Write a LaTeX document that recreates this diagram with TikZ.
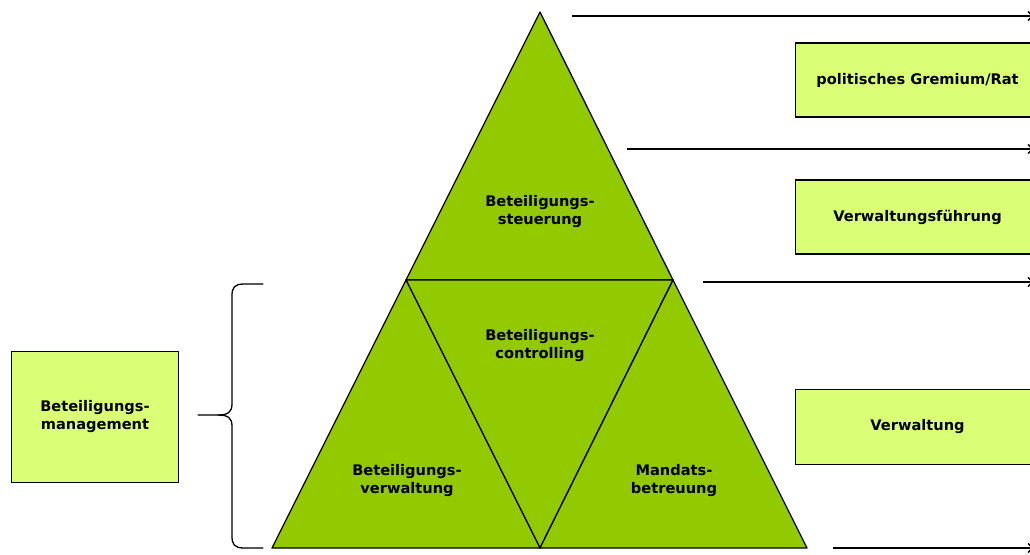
\documentclass[tikz,border=0pt]{standalone}
\usepackage{fontspec}
\setmainfont{DejaVu Sans}
\usepackage{xcolor}
\usetikzlibrary{arrows.meta,positioning,calc}

\definecolor{pyrgreen}{RGB}{146,201,0}
\definecolor{boxgreen}{RGB}{218,255,118}

\begin{document}
\begin{tikzpicture}[x=1pt,y=-1pt,>={Straight Barb[length=5pt,width=9pt]},
  piece/.style={fill=pyrgreen,draw=black,line width=1.3pt,line join=round},
  lbl/.style={font=\fontsize{14.6}{18}\selectfont\bfseries,align=center},
  level/.style={draw=black,fill=boxgreen,line width=1.1pt,minimum height=74pt,font=\fontsize{14.6}{18}\selectfont\bfseries,inner sep=0pt},
  tier/.style={->,line width=1.4pt}]
  \useasboundingbox (0,0) rectangle (1030,554);
  % pyramid corners
  \coordinate (top) at (540,12);
  \coordinate (bl) at (272,548);
  \coordinate (br) at (807,548);
  \coordinate (ml) at (406,280);
  \coordinate (mr) at (673,280);
  \coordinate (bm) at (540,548);
  \draw[piece] (top)--(mr)--(ml)--cycle;
  \draw[piece] (ml)--(mr)--(bm)--cycle;
  \draw[piece] (ml)--(bm)--(bl)--cycle;
  \draw[piece] (mr)--(br)--(bm)--cycle;
  \node[lbl] (steuer) at (540,212) {Beteiligungs-\\steuerung};
  \node[lbl] (contr) at (540,346) {Beteiligungs-\\controlling};
  \node[lbl] (verw) at (407,481) {Beteiligungs-\\verwaltung};
  \node[lbl] (mand) at (674,481) {Mandats-\\betreuung};
  % levels on the right
  \coordinate (a1) at (572,16);  \coordinate (e1) at (1034,16);
  \coordinate (a2) at (627,149); \coordinate (e2) at (1034,149);
  \coordinate (a3) at (703,282); \coordinate (e3) at (1034,282);
  \coordinate (a4) at (833,548); \coordinate (e4) at (1034,548);
  \draw[tier] (a1)--(e1);
  \draw[tier] (a2)--(e2);
  \draw[tier] (a3)--(e3);
  \draw[tier] (a4)--(e4);
  \node[level,minimum width=244pt,anchor=west] (rat) at (795,80) {politisches Gremium/Rat};
  \node[level,minimum width=244pt,anchor=west] (fuehr) at (795,217) {Verwaltungsführung};
  \node[level,minimum width=244pt,anchor=west,minimum height=75pt] (verwaltung) at (795,427) {Verwaltung};
  % management box and brace
  \node[level,minimum width=167pt,minimum height=131pt,align=center] (mgmt) at (95,417) {Beteiligungs-\\management};
  \draw[line width=1.3pt,line cap=round] (263,284) -- (244,284) .. controls (234,284) and (232,288) .. (232,296)
    -- (232,404) .. controls (232,412) and (228,415) .. (218,415) -- (198,415);
  \draw[line width=1.3pt,line cap=round] (218,415) .. controls (228,415) and (232,418) .. (232,426)
    -- (232,536) .. controls (232,544) and (234,548) .. (244,548) -- (263,548);
\end{tikzpicture}
\end{document}
